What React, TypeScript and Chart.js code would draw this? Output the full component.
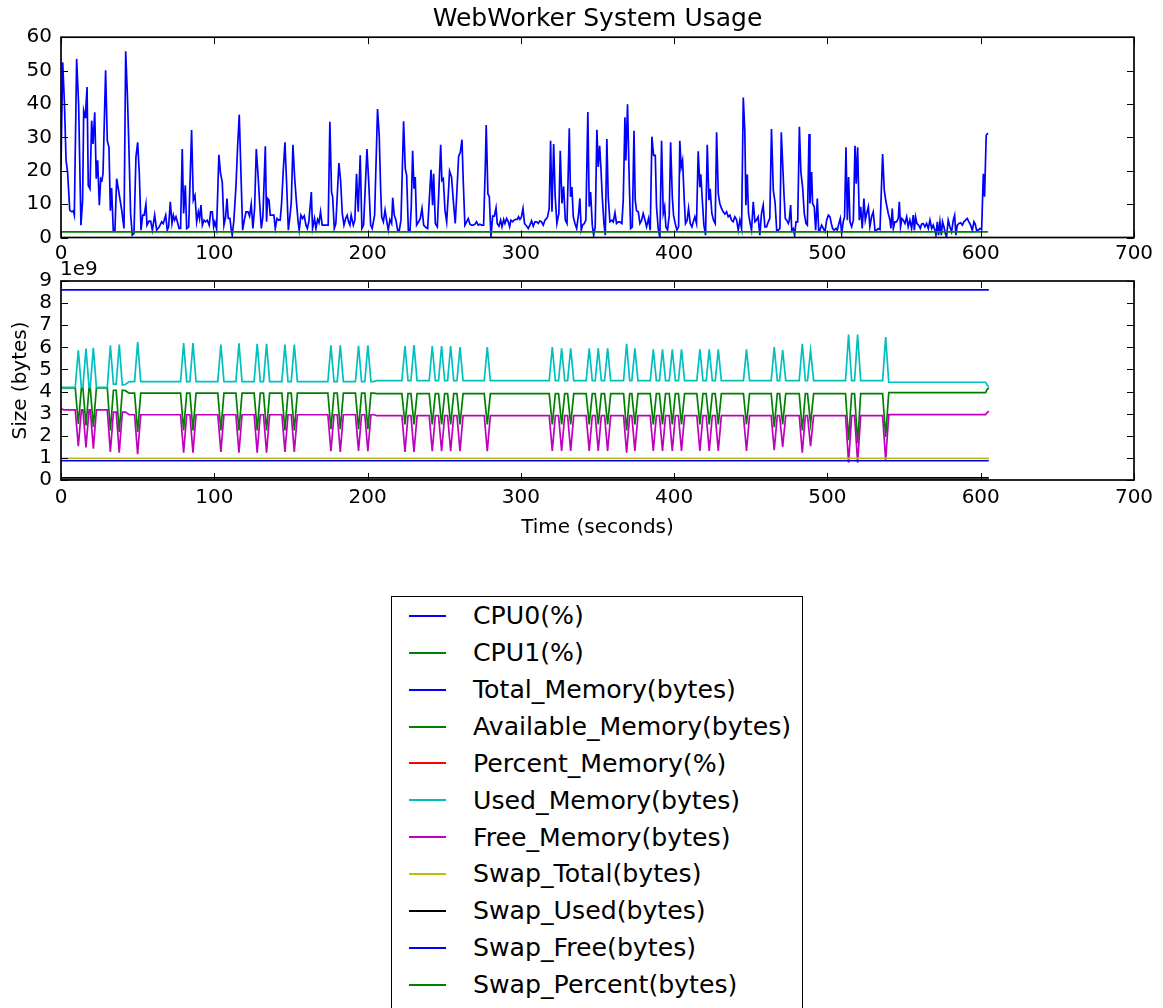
import React, { useEffect, useRef } from "react";
import { Chart, registerables } from "chart.js";

Chart.register(...registerables);

const FONT = "'DejaVu Sans', 'Bitstream Vera Sans', sans-serif";

// ---------------- Top panel: CPU usage (%) ----------------
const cpu0Time: number[] = [
  0, 1.1, 2.2, 3.3, 4.3, 5.7, 7.0, 8.0, 8.7, 10.2,
  11.5, 13.0, 14.1, 14.8, 15.7, 16.1, 17.0, 17.8, 18.9, 20.0,
  20.9, 22.0, 23.0, 23.9, 25.0, 25.9, 26.7, 27.4, 29.1, 30.2,
  31.3, 32.2, 33.0, 34.1, 35.2, 36.3, 37.4, 39.6, 41.1, 42.2,
  43.3, 44.3, 45.4, 46.5, 47.6, 48.9, 50.0, 51.1, 52.2, 53.3,
  54.3, 55.4, 56.1, 57.4, 58.5, 59.6, 61.1, 62.4, 64.1, 65.7,
  66.7, 68.3, 69.3, 70.2, 71.3, 72.4, 73.3, 74.1, 75.0, 75.9,
  77.0, 78.0, 79.1, 80.0, 81.1, 82.0, 83.3, 85.2, 86.3, 87.4,
  88.5, 89.6, 90.4, 91.3, 92.2, 93.3, 94.3, 95.4, 96.7, 97.6,
  98.7, 99.6, 100.4, 101.5, 103.0, 104.1, 105.2, 106.3, 107.4, 108.3,
  109.1, 110.2, 111.1, 111.7, 112.8, 114.1, 115.2, 116.3, 117.4, 118.5,
  119.6, 120.7, 122.0, 123.0, 124.1, 125.2, 126.3, 127.4, 128.5, 129.6,
  130.7, 131.7, 133.3, 134.1, 134.8, 135.7, 136.5, 137.8, 138.9, 139.8,
  140.9, 142.0, 143.0, 143.9, 145.0, 146.1, 147.2, 148.3, 149.3, 150.2,
  151.3, 152.4, 153.5, 154.6, 155.4, 156.5, 157.6, 158.7, 159.8, 160.7,
  161.7, 163.3, 164.1, 165.4, 166.3, 167.4, 168.3, 169.3, 170.4, 172.2,
  174.3, 175.4, 176.5, 177.2, 178.3, 179.3, 181.3, 182.4, 183.5, 184.6,
  185.7, 186.7, 187.6, 188.5, 189.3, 190.7, 191.7, 192.8, 193.9, 195.2,
  196.3, 197.4, 198.5, 199.6, 200.7, 202.0, 203.0, 204.6, 206.5, 207.6,
  208.5, 209.2, 210.3, 211.4, 212.4, 213.5, 214.6, 215.7, 216.4, 217.4,
  218.5, 219.6, 220.7, 221.8, 223.5, 224.6, 225.5, 226.6, 227.7, 228.5,
  229.4, 230.3, 231.1, 232.0, 233.3, 234.4, 235.5, 236.6, 238.1, 239.2,
  240.3, 241.4, 242.4, 243.1, 244.2, 245.5, 246.6, 247.7, 248.5, 249.4,
  250.5, 251.6, 252.7, 253.5, 254.8, 255.9, 257.2, 258.1, 259.4, 260.5,
  261.6, 262.4, 263.5, 264.6, 265.7, 266.8, 267.9, 269.0, 270.1, 271.1,
  272.2, 273.3, 274.4, 275.7, 276.8, 277.4, 278.5, 279.4, 280.5, 281.6,
  282.7, 283.8, 284.6, 285.7, 286.8, 287.7, 288.8, 289.6, 290.7, 291.8,
  292.7, 293.5, 294.6, 295.5, 296.6, 297.7, 298.5, 299.4, 300.3, 301.4,
  302.4, 303.8, 304.8, 305.9, 307.0, 308.1, 309.2, 310.3, 311.4, 312.4,
  313.5, 314.6, 315.7, 316.8, 317.4, 318.5, 319.4, 320.3, 321.4, 322.4,
  323.5, 324.8, 325.7, 326.8, 327.9, 329.0, 330.1, 331.6, 332.4, 333.3,
  334.2, 335.3, 336.4, 337.7, 338.5, 339.4, 340.3, 341.4, 342.4, 343.7,
  344.6, 345.5, 346.6, 347.5, 348.5, 349.6, 350.5, 351.4, 352.2, 353.1,
  354.2, 355.1, 356.1, 357.0, 358.1, 359.4, 360.3, 361.4, 362.4, 363.5,
  364.6, 365.9, 366.8, 367.9, 368.5, 369.6, 370.7, 371.6, 372.7, 373.8,
  374.6, 375.5, 376.6, 377.7, 378.8, 379.8, 380.9, 382.0, 383.3, 384.4,
  385.5, 386.6, 387.7, 388.5, 389.6, 390.7, 391.8, 392.9, 393.8, 394.6,
  395.7, 396.8, 397.7, 398.8, 399.6, 400.7, 401.8, 402.9, 403.7, 404.6,
  405.5, 406.6, 407.4, 408.5, 409.4, 410.5, 411.6, 412.5, 413.5, 414.6,
  415.7, 416.8, 417.4, 418.5, 419.4, 420.5, 421.6, 422.7, 423.5, 424.6,
  425.7, 426.8, 427.7, 428.8, 429.8, 430.9, 432.0, 433.1, 434.2, 435.3,
  436.4, 437.4, 438.5, 439.6, 440.7, 441.8, 442.9, 444.0, 445.1, 446.1,
  446.8, 447.7, 448.5, 449.6, 450.5, 451.6, 452.7, 453.7, 454.8, 455.9,
  457.0, 458.1, 459.2, 460.3, 461.4, 462.4, 463.5, 464.7, 465.8, 466.9,
  468.0, 469.0, 469.9, 470.8, 471.7, 472.5, 473.4, 474.5, 475.1, 476.0,
  476.7, 477.7, 478.6, 479.5, 480.6, 481.7, 482.7, 483.8, 484.9, 486.0,
  486.9, 488.0, 488.6, 489.7, 490.3, 491.4, 492.3, 493.4, 494.3, 495.1,
  496.2, 497.3, 498.4, 499.5, 500.6, 501.7, 502.5, 503.4, 504.3, 505.6,
  506.4, 507.5, 508.4, 509.3, 510.3, 511.2, 512.1, 513.0, 513.8, 514.7,
  515.8, 516.9, 518.0, 518.8, 519.7, 520.8, 521.7, 522.7, 523.8, 524.7,
  525.6, 526.7, 527.7, 528.8, 529.9, 531.0, 532.1, 533.2, 534.3, 536.0,
  537.1, 538.2, 539.7, 540.8, 541.4, 542.3, 543.0, 544.0, 545.1, 546.2,
  546.9, 547.7, 548.6, 549.5, 550.6, 551.7, 552.7, 553.8, 554.9, 556.0,
  556.7, 557.5, 558.4, 559.5, 560.6, 561.4, 562.5, 563.6, 564.7, 565.8,
  566.9, 568.0, 569.0, 570.1, 570.8, 571.7, 572.5, 573.4, 574.3, 575.1,
  576.0, 576.9, 577.7, 578.8, 579.9, 581.0, 582.1, 583.0, 583.8, 584.7,
  585.8, 586.9, 588.0, 589.0, 590.1, 591.2, 592.3, 593.4, 594.5, 595.6,
  596.4, 597.3, 598.4, 599.5, 600.6, 601.7, 602.5, 603.6, 604.7,
];

const cpu0Value: number[] = [
  21.4, 52.5, 40.9, 23.1, 19.6, 8.2, 7.7, 8.0, 6.7, 53.5,
  39.9, 3.7, 11.2, 37.9, 36.0, 37.9, 45.1, 15.6, 14.6, 35.0,
  28.0, 37.5, 17.6, 23.1, 9.7, 17.6, 17.1, 19.1, 50.1, 29.0,
  27.0, 8.0, 14.8, 2.2, 2.2, 17.6, 14.6, 8.2, 2.7, 55.8,
  42.9, 27.0, 7.2, 0.7, 1.2, 24.1, 28.5, 19.1, 2.2, 6.7,
  6.7, 10.0, 3.7, 4.9, 4.9, 2.2, 6.7, 2.2, 3.2, 4.7,
  4.2, 6.7, 2.2, 3.2, 10.7, 4.2, 6.7, 5.2, 6.2, 4.7,
  2.7, 2.7, 26.5, 7.2, 15.6, 2.7, 3.2, 32.2, 11.2, 12.6,
  4.7, 7.7, 5.7, 9.7, 3.7, 5.2, 4.7, 5.2, 3.7, 7.7,
  7.7, 3.2, 4.7, 2.5, 24.8, 19.1, 16.6, 3.7, 6.2, 11.7,
  5.7, 5.7, 2.2, 0.7, 5.2, 15.1, 27.0, 36.8, 19.1, 2.2,
  5.2, 7.7, 7.7, 6.4, 10.0, 2.7, 8.7, 26.5, 19.1, 10.2,
  2.7, 6.2, 27.3, 4.7, 11.7, 11.2, 6.7, 6.7, 6.7, 2.7,
  5.7, 5.2, 5.2, 10.2, 20.1, 28.5, 16.1, 2.2, 6.2, 10.2,
  27.8, 18.1, 11.2, 5.2, 2.2, 6.7, 5.7, 6.5, 3.7, 2.7,
  4.7, 13.6, 2.7, 5.7, 2.7, 5.4, 4.4, 7.7, 3.7, 3.7,
  3.7, 34.7, 13.6, 12.2, 2.7, 4.2, 22.3, 17.1, 7.2, 3.7,
  5.7, 6.7, 4.7, 3.7, 6.7, 3.7, 5.2, 19.1, 7.7, 24.6,
  2.7, 3.7, 15.1, 26.5, 17.1, 3.7, 2.7, 6.7, 38.5, 30.5,
  15.0, 6.2, 4.7, 8.2, 5.2, 2.2, 5.4, 4.2, 11.9, 6.7,
  5.2, 2.2, 2.2, 5.2, 34.8, 20.6, 18.6, 2.2, 2.2, 9.2,
  26.0, 14.6, 18.1, 3.7, 4.7, 5.7, 8.7, 3.7, 3.0, 2.7,
  11.7, 20.3, 9.7, 19.1, 4.2, 3.2, 15.1, 27.8, 17.1, 17.6,
  8.2, 4.7, 13.1, 19.9, 18.1, 11.2, 4.2, 12.2, 24.3, 25.5,
  29.3, 17.1, 3.7, 4.7, 5.7, 4.0, 3.7, 3.7, 4.0, 4.7,
  3.7, 4.0, 3.7, 3.7, 21.1, 33.7, 13.1, 12.2, 0.2, 6.4,
  6.4, 8.9, 4.2, 3.4, 5.2, 3.2, 5.4, 4.2, 5.7, 4.7,
  3.2, 5.2, 4.7, 5.2, 5.4, 5.4, 6.2, 5.4, 6.0, 8.7,
  4.2, 3.4, 2.7, 3.7, 5.0, 3.4, 4.7, 4.7, 4.2, 5.0,
  4.7, 3.7, 5.2, 5.7, 6.2, 8.7, 29.0, 7.7, 28.0, 12.2,
  4.2, 7.2, 26.0, 10.2, 15.3, 5.2, 4.2, 32.7, 12.2, 15.1,
  6.2, 4.2, 2.7, 7.2, 11.7, 2.2, 3.7, 4.2, 5.2, 37.6,
  9.2, 13.6, 3.7, 0.7, 3.2, 32.3, 21.1, 27.5, 21.1, 12.2,
  4.2, 0.7, 29.5, 12.2, 4.7, 5.2, 4.7, 7.4, 4.2, 4.7,
  4.7, 4.2, 11.2, 36.0, 23.1, 39.9, 17.1, 2.7, 3.2, 32.0,
  11.2, 8.0, 7.7, 4.2, 5.2, 7.2, 5.4, 3.2, 5.7, 2.2,
  30.2, 24.6, 24.6, 9.2, 2.7, 0.0, 29.0, 7.2, 9.2, 3.2,
  2.2, 6.7, 28.5, 12.2, 6.7, 4.2, 2.2, 3.2, 29.0, 21.1,
  23.1, 11.2, 4.2, 5.2, 8.7, 4.2, 3.2, 4.7, 6.2, 4.2,
  25.8, 15.1, 18.9, 10.2, 3.7, 0.7, 27.8, 11.2, 14.6, 7.2,
  5.2, 4.2, 31.5, 13.1, 10.2, 8.7, 7.7, 7.0, 7.7, 6.2,
  6.7, 5.2, 4.7, 6.2, 5.4, 2.2, 5.2, 2.7, 41.9, 32.0,
  9.7, 18.9, 7.2, 4.2, 2.2, 10.7, 4.7, 5.2, 6.2, 0.7,
  7.2, 9.7, 3.2, 3.2, 4.7, 5.7, 32.5, 14.1, 10.7, 2.2,
  2.2, 2.7, 31.5, 22.1, 12.6, 5.7, 5.2, 4.2, 5.2, 9.7,
  2.2, 2.7, 0.7, 4.7, 4.7, 33.2, 19.6, 15.1, 7.2, 4.2,
  3.7, 31.0, 10.2, 19.6, 10.2, 9.2, 2.2, 11.7, 2.2, 2.2,
  3.7, 2.7, 1.7, 5.2, 6.7, 6.2, 4.2, 2.7, 2.2, 2.7,
  2.2, 4.2, 5.7, 1.2, 4.7, 6.2, 27.0, 5.2, 18.1, 4.7,
  3.2, 5.2, 27.5, 16.1, 27.0, 5.2, 9.2, 2.7, 11.7, 5.2,
  7.2, 9.2, 3.2, 6.2, 7.7, 2.2, 2.2, 2.7, 2.4, 25.0,
  14.1, 10.7, 7.2, 5.2, 2.7, 8.7, 2.7, 4.7, 4.7, 5.7,
  10.7, 3.2, 5.7, 5.2, 4.2, 6.2, 3.2, 5.2, 2.7, 6.7,
  2.2, 6.2, 4.2, 3.7, 2.7, 4.0, 4.2, 3.2, 4.2, 2.7,
  5.2, 2.7, 3.7, 2.2, 0.7, 4.7, 0.7, 4.7, 0.7, 4.7,
  3.2, 1.2, 0.2, 5.2, 3.2, 1.7, 5.2, 6.7, 0.7, 3.7,
  4.2, 4.4, 3.7, 4.7, 5.2, 5.7, 4.7, 3.7, 2.2, 4.7,
  4.0, 2.2, 2.2, 2.7, 2.4, 19.1, 12.2, 30.6, 31.3,
];

const cpu1Time: number[] = [0, 604.7];
const cpu1Value: number[] = [1.7, 1.7];

// ---------------- Bottom panel: memory (units of 1e9 bytes) ----------------
const memTime: number[] = [
  0, 2, 9.3, 11.3, 13.3, 14.3, 16.3, 18.3, 19.1, 21.1, 23.1, 30.2, 32.2, 34.2, 36.0, 38.0, 40.0, 42.0, 44.5,
  48, 50, 52,
  78, 80, 82, 84.1, 86.1, 88.1,
  102.3, 104.3, 106.3,
  114.1, 116.1, 118.1,
  126, 128, 130, 132.1, 134.1, 136.1,
  144.1, 146.1, 148.1, 150.2, 152.2, 154.2,
  174.1, 176.1, 178.1, 180.2, 182.2, 184.2,
  192.1, 194.1, 196.1, 198.2, 200.2, 202.2,
  204, 206,
  222.4, 224.4, 226.4, 228.3, 230.3, 232.3,
  240.2, 242.2, 244.2, 246.3, 248.3, 250.3, 252.2, 254.2, 256.2, 258.3, 260.3, 262.3,
  276.1, 278.1, 280.1,
  318.5, 320.5, 322.5, 324.6, 326.6, 328.6, 330.5, 332.5, 334.5,
  342.6, 344.6, 346.6, 348.5, 350.5, 352.5, 354.6, 356.6, 358.6,
  367, 369, 371, 372.4, 374.4, 376.4,
  384.4, 386.4, 388.4, 390.4, 392.4, 394.4, 396.8, 398.8, 400.8, 402.8, 404.8, 406.8,
  414.8, 416.8, 418.8, 420.9, 422.9, 424.9, 426.8, 428.8, 430.8,
  445.2, 447.2, 449.2,
  463.3, 465.3, 467.3, 468.8, 470.8, 472.8,
  481.6, 483.6, 485.6, 487, 489, 491,
  511.8, 513.8, 515.8, 517.7, 519.7, 521.7,
  536, 538, 540,
  603.2, 604.2, 605.3,
];

const usedMemoryE9: number[] = [
  4.19, 4.19, 4.19, 5.87, 4.19, 4.19, 5.94, 4.19, 4.19, 5.98, 4.19, 4.19, 6.09, 4.34, 4.34, 6.13, 4.30, 4.32, 4.45,
  4.45, 6.24, 4.45,
  4.45, 6.19, 4.45, 4.45, 6.19, 4.45,
  4.45, 6.13, 4.45,
  4.45, 6.18, 4.45,
  4.45, 6.16, 4.45, 4.45, 6.16, 4.45,
  4.45, 6.13, 4.45, 4.45, 6.13, 4.45,
  4.45, 6.09, 4.45, 4.45, 6.09, 4.45,
  4.45, 6.07, 4.45, 4.45, 6.09, 4.45,
  4.45, 4.49,
  4.49, 6.06, 4.49, 4.49, 6.10, 4.49,
  4.49, 6.06, 4.49, 4.49, 6.06, 4.49, 4.49, 6.06, 4.49, 4.49, 6.01, 4.49,
  4.49, 6.01, 4.49,
  4.49, 6.01, 4.49, 4.49, 5.95, 4.49, 4.49, 5.95, 4.49,
  4.49, 5.95, 4.49, 4.49, 5.95, 4.49, 4.49, 5.95, 4.49,
  4.49, 6.16, 4.49, 4.49, 5.95, 4.49,
  4.49, 5.91, 4.49, 4.49, 5.91, 4.49, 4.49, 5.91, 4.49, 4.49, 5.91, 4.49,
  4.49, 5.91, 4.49, 4.49, 5.91, 4.49, 4.49, 5.91, 4.49,
  4.49, 5.91, 4.49,
  4.49, 6.01, 4.49, 4.49, 5.88, 4.49,
  4.49, 6.16, 4.49, 4.49, 5.86, 4.49,
  4.49, 6.58, 4.49, 4.49, 6.58, 4.49,
  4.49, 6.46, 4.42,
  4.42, 4.30, 4.19,
];

const availableMemoryE9: number[] = [
  4.17, 4.16, 4.16, 2.54, 4.16, 4.16, 2.47, 4.16, 4.16, 2.40, 4.16, 4.16, 2.24, 4.06, 4.06, 2.17, 4.06, 4.04, 3.93,
  3.93, 2.17, 3.93,
  3.93, 2.24, 3.93, 3.93, 2.24, 3.93,
  3.93, 2.24, 3.93,
  3.93, 2.24, 3.93,
  3.93, 2.24, 3.93, 3.93, 2.24, 3.93,
  3.93, 2.24, 3.93, 3.93, 2.24, 3.93,
  3.93, 2.30, 3.93, 3.93, 2.30, 3.93,
  3.93, 2.30, 3.93, 3.93, 2.30, 3.93,
  3.93, 3.91,
  3.91, 2.51, 3.91, 3.91, 2.51, 3.91,
  3.91, 2.51, 3.91, 3.91, 2.51, 3.91, 3.91, 2.51, 3.91, 3.91, 2.51, 3.91,
  3.91, 2.51, 3.91,
  3.91, 2.51, 3.91, 3.91, 2.51, 3.91, 3.91, 2.51, 3.91,
  3.91, 2.51, 3.91, 3.91, 2.51, 3.91, 3.91, 2.51, 3.91,
  3.91, 2.24, 3.91, 3.91, 2.51, 3.91,
  3.91, 2.51, 3.91, 3.91, 2.51, 3.91, 3.91, 2.51, 3.91, 3.91, 2.51, 3.91,
  3.91, 2.51, 3.91, 3.91, 2.51, 3.91, 3.91, 2.51, 3.91,
  3.91, 2.51, 3.91,
  3.91, 2.39, 3.91, 3.91, 2.51, 3.91,
  3.91, 2.24, 3.91, 3.91, 2.54, 3.91,
  3.91, 1.80, 3.91, 3.91, 1.65, 3.91,
  3.91, 1.95, 3.95,
  3.95, 4.10, 4.16,
];

const freeMemoryE9: number[] = [
  3.22, 3.17, 3.17, 1.53, 3.17, 3.17, 1.47, 3.17, 3.17, 1.42, 3.17, 3.17, 1.27, 3.07, 3.07, 1.24, 3.07, 3.07, 2.95,
  2.95, 1.17, 2.95,
  2.95, 1.23, 2.95, 2.95, 1.23, 2.95,
  2.95, 1.27, 2.95,
  2.95, 1.23, 2.95,
  2.95, 1.24, 2.95, 2.95, 1.23, 2.95,
  2.95, 1.27, 2.95, 2.95, 1.27, 2.95,
  2.95, 1.30, 2.95, 2.95, 1.27, 2.95,
  2.95, 1.32, 2.95, 2.95, 1.30, 2.95,
  2.95, 2.91,
  2.91, 1.27, 2.91, 2.91, 1.27, 2.91,
  2.91, 1.30, 2.91, 2.91, 1.30, 2.91, 2.91, 1.30, 2.91, 2.91, 1.30, 2.91,
  2.91, 1.30, 2.91,
  2.91, 1.32, 2.91, 2.91, 1.32, 2.91, 2.91, 1.32, 2.91,
  2.91, 1.32, 2.91, 2.91, 1.32, 2.91, 2.91, 1.32, 2.91,
  2.91, 1.23, 2.91, 2.91, 1.32, 2.91,
  2.91, 1.32, 2.91, 2.91, 1.32, 2.91, 2.91, 1.32, 2.91, 2.91, 1.32, 2.91,
  2.91, 1.32, 2.91, 2.91, 1.32, 2.91, 2.91, 1.32, 2.91,
  2.91, 1.32, 2.91,
  2.91, 1.35, 2.91, 2.91, 1.50, 2.91,
  2.91, 1.23, 2.91, 2.91, 1.53, 2.91,
  2.91, 0.78, 2.91, 2.91, 0.78, 2.91,
  2.91, 0.90, 2.96,
  2.96, 3.05, 3.11,
];

// Flat series (start / end samples)
const flatTime: number[] = [0, 605.3];
const totalMemoryE9: number[] = [8.6, 8.6];
const swapTotalE9: number[] = [0.98, 0.98];
const swapUsedE9: number[] = [0.1, 0.1];
const swapFreeE9: number[] = [0.87, 0.87];
const percentMemory: number[] = [52, 52]; // percent, plotted on the byte axis
const swapPercent: number[] = [10.5, 10.5]; // percent, plotted on the byte axis

// Axis ticks
const xTicks: number[] = [0, 100, 200, 300, 400, 500, 600, 700];
const cpuTicks: number[] = [0, 10, 20, 30, 40, 50, 60];
const memTicksE9: number[] = [0, 1, 2, 3, 4, 5, 6, 7, 8, 9];

// Legend
const legendLabels: string[] = [
  "CPU0(%)", "CPU1(%)", "Total_Memory(bytes)", "Available_Memory(bytes)", "Percent_Memory(%)",
  "Used_Memory(bytes)", "Free_Memory(bytes)", "Swap_Total(bytes)", "Swap_Used(bytes)",
  "Swap_Free(bytes)", "Swap_Percent(bytes)",
];
const legendColors: string[] = [
  "#0000ff", "#008000", "#0000ff", "#008000", "#ff0000",
  "#00bfbf", "#bf00bf", "#bfbf00", "#000000", "#0000ff", "#008000",
];

const E9 = 1e9;

function pts(ts: number[], vs: number[], scale = 1) {
  const n = Math.min(ts.length, vs.length);
  const out: { x: number; y: number }[] = [];
  for (let i = 0; i < n; i++) out.push({ x: ts[i], y: vs[i] * scale });
  return out;
}

function lineDs(label: string, data: any[], color: string, idx: number) {
  return {
    label,
    data,
    borderColor: color,
    backgroundColor: color,
    borderWidth: 1.7,
    pointRadius: 0,
    fill: false,
    tension: 0,
    order: -idx,
  };
}

const framePlugin = {
  id: "mplFrame",
  afterDatasetsDraw(chart: any) {
    const { ctx, chartArea: a, scales } = chart;
    const xs = scales.x;
    const ys = scales.y;
    ctx.save();
    ctx.strokeStyle = "#000";
    ctx.lineWidth = 1;
    const tl = 7;
    ctx.beginPath();
    xTicks.forEach((v) => {
      const p = Math.round(xs.getPixelForValue(v)) + 0.5;
      ctx.moveTo(p, a.bottom);
      ctx.lineTo(p, a.bottom - tl);
      ctx.moveTo(p, a.top);
      ctx.lineTo(p, a.top + tl);
    });
    ys.ticks.forEach((t: any) => {
      const p = Math.round(ys.getPixelForValue(t.value)) + 0.5;
      ctx.moveTo(a.left, p);
      ctx.lineTo(a.left + tl, p);
      ctx.moveTo(a.right, p);
      ctx.lineTo(a.right - tl, p);
    });
    ctx.stroke();
    ctx.lineWidth = 1.7;
    ctx.strokeRect(a.left, a.top, a.right - a.left, a.bottom - a.top);
    ctx.restore();
  },
};

const offsetTextPlugin = {
  id: "offsetText",
  afterDraw(chart: any) {
    const { ctx } = chart;
    ctx.save();
    ctx.fillStyle = "#000";
    ctx.font = `20px ${FONT}`;
    ctx.textAlign = "left";
    ctx.textBaseline = "alphabetic";
    ctx.fillText("1e9", 60, 15);
    ctx.restore();
  },
};

function xScale(padding: number, height: number, title?: any) {
  return {
    type: "linear",
    min: 0,
    max: 700,
    afterBuildTicks: (s: any) => {
      s.ticks = xTicks.map((v) => ({ value: v }));
    },
    ticks: {
      font: { family: FONT, size: 20 },
      color: "#000",
      padding,
      maxRotation: 0,
      autoSkip: false,
      callback: (v: any) => String(v),
    },
    grid: { display: false, drawTicks: false },
    border: { display: false },
    title,
    afterFit: (s: any) => {
      s.height = height;
    },
  };
}

export default function App() {
  const topRef = useRef<HTMLCanvasElement>(null);
  const botRef = useRef<HTMLCanvasElement>(null);

  useEffect(() => {
    Chart.defaults.font.family = FONT;
    Chart.defaults.color = "#000";

    const top = new Chart(topRef.current as HTMLCanvasElement, {
      type: "line",
      data: {
        datasets: [
          lineDs("CPU0(%)", pts(cpu0Time, cpu0Value), legendColors[0], 0),
          lineDs("CPU1(%)", pts(cpu1Time, cpu1Value), legendColors[1], 1),
        ] as any,
      },
      options: {
        animation: false,
        responsive: false,
        devicePixelRatio: 1,
        events: [],
        parsing: false as any,
        layout: { padding: { left: 0, right: 29, top: 0, bottom: 0 } },
        plugins: {
          legend: { display: false },
          tooltip: { enabled: false },
          title: {
            display: true,
            text: "WebWorker System Usage",
            fullSize: false,
            color: "#000",
            font: { family: FONT, size: 25, weight: "normal" as any },
            padding: { top: 4, bottom: 3.2 },
          },
        },
        scales: {
          x: xScale(4, 27.5) as any,
          y: {
            type: "linear",
            min: 0,
            max: 60,
            afterBuildTicks: (s: any) => {
              s.ticks = cpuTicks.map((v) => ({ value: v }));
            },
            ticks: {
              font: { family: FONT, size: 20 },
              color: "#000",
              padding: 9,
              autoSkip: false,
              callback: (v: any) => String(v),
            },
            grid: { display: false, drawTicks: false },
            border: { display: false },
            afterFit: (s: any) => {
              s.width = 61;
            },
          } as any,
        },
      },
      plugins: [framePlugin],
    });

    const bottom = new Chart(botRef.current as HTMLCanvasElement, {
      type: "line",
      data: {
        datasets: [
          lineDs("Total_Memory(bytes)", pts(flatTime, totalMemoryE9, E9), legendColors[2], 0),
          lineDs("Available_Memory(bytes)", pts(memTime, availableMemoryE9, E9), legendColors[3], 1),
          lineDs("Percent_Memory(%)", pts(flatTime, percentMemory), legendColors[4], 2),
          lineDs("Used_Memory(bytes)", pts(memTime, usedMemoryE9, E9), legendColors[5], 3),
          lineDs("Free_Memory(bytes)", pts(memTime, freeMemoryE9, E9), legendColors[6], 4),
          lineDs("Swap_Total(bytes)", pts(flatTime, swapTotalE9, E9), legendColors[7], 5),
          lineDs("Swap_Used(bytes)", pts(flatTime, swapUsedE9, E9), legendColors[8], 6),
          lineDs("Swap_Free(bytes)", pts(flatTime, swapFreeE9, E9), legendColors[9], 7),
          lineDs("Swap_Percent(bytes)", pts(flatTime, swapPercent), legendColors[10], 8),
        ] as any,
      },
      options: {
        animation: false,
        responsive: false,
        devicePixelRatio: 1,
        events: [],
        parsing: false as any,
        layout: { padding: { left: 0, right: 29, top: 19.5, bottom: 0 } },
        plugins: {
          legend: { display: false },
          tooltip: { enabled: false },
          title: { display: false },
        },
        scales: {
          x: xScale(5.5, 70, {
            display: true,
            text: "Time (seconds)",
            color: "#000",
            font: { family: FONT, size: 20 },
            padding: { top: 0, bottom: 10 },
          }) as any,
          y: {
            type: "linear",
            min: 0,
            max: 9 * E9,
            afterBuildTicks: (s: any) => {
              s.ticks = memTicksE9.map((v) => ({ value: v * E9 }));
            },
            ticks: {
              font: { family: FONT, size: 20 },
              color: "#000",
              padding: 9,
              autoSkip: false,
              callback: (v: any) => String(Math.round(Number(v) / E9)),
            },
            grid: { display: false, drawTicks: false },
            border: { display: false },
            title: {
              display: true,
              text: "Size (bytes)",
              color: "#000",
              font: { family: FONT, size: 20 },
              padding: { top: 9, bottom: 0 },
            },
            afterFit: (s: any) => {
              s.width = 61;
            },
          } as any,
        },
      },
      plugins: [framePlugin, offsetTextPlugin],
    });

    return () => {
      top.destroy();
      bottom.destroy();
    };
  }, []);

  const rowStep = 36.87;
  const firstRow = 616;

  return (
    <div
      style={{
        position: "absolute",
        left: 0,
        top: 0,
        width: 1163,
        height: 1008,
        overflow: "hidden",
        background: "#ffffff",
        fontFamily: FONT,
      }}
    >
      <canvas ref={topRef} width={1163} height={265} style={{ position: "absolute", left: 0, top: 0 }} />
      <canvas ref={botRef} width={1163} height={290} style={{ position: "absolute", left: 0, top: 260 }} />
      <div
        style={{
          position: "absolute",
          left: 391,
          top: 596,
          width: 412,
          height: 440,
          border: "1.7px solid #000",
          boxSizing: "border-box",
          background: "#fff",
        }}
      />
      {legendLabels.map((label, i) => {
        const cy = firstRow + i * rowStep;
        return (
          <React.Fragment key={label}>
            <div
              style={{
                position: "absolute",
                left: 409,
                top: Math.round(cy) - 1,
                width: 37,
                height: 2,
                background: legendColors[i],
              }}
            />
            <div
              style={{
                position: "absolute",
                left: 473,
                top: cy - 14.65,
                fontSize: 25.2,
                lineHeight: "30px",
                color: "#000",
                whiteSpace: "nowrap",
              }}
            >
              {label}
            </div>
          </React.Fragment>
        );
      })}
    </div>
  );
}
